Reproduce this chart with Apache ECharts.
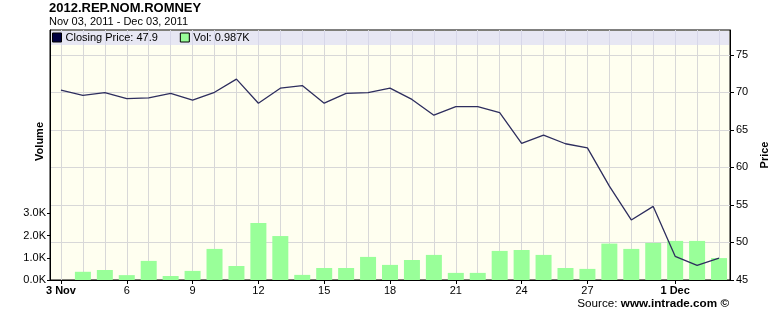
<!DOCTYPE html>
<html>
<head>
<meta charset="utf-8">
<script src="https://cdn.jsdelivr.net/npm/echarts@6/dist/echarts.min.js"></script>
<style>
html,body{margin:0;padding:0;background:#fff;}
#c{width:780px;height:311px;}
</style>
</head>
<body>
<div id="c"></div>
<script>
// ---- data ----
const days = ['3 Nov','4','5','6','7','8','9','10','11','12','13','14','15','16','17','18','19','20','21','22','23','24','25','26','27','28','29','30','1 Dec','2','3'];
const closingPrice = [70.3,69.6,69.95,69.15,69.25,69.85,68.95,70.0,71.75,68.55,70.55,70.9,68.55,69.85,69.95,70.55,69.05,66.95,68.1,68.1,67.3,63.2,64.3,63.15,62.6,57.5,53.0,54.8,48.15,46.95,47.9];
const volumeK = [0,0.37,0.45,0.22,0.86,0.18,0.41,1.40,0.63,2.57,1.98,0.23,0.54,0.54,1.04,0.68,0.90,1.13,0.32,0.32,1.31,1.35,1.13,0.54,0.50,1.64,1.40,1.67,1.76,1.76,0.987];
const labeledDays = ['3 Nov','6','9','12','15','18','21','24','27','1 Dec'];
const priceTicks = [45,50,55,60,65,70,75];
const volumeTicksK = [0,1,2,3];

const chart = echarts.init(document.getElementById('c'));
const FONT = 'Liberation Sans, Arial, sans-serif';
const lastPrice = closingPrice[closingPrice.length-1];
const lastVol = volumeK[volumeK.length-1];
const showLabel = (i, v) => labeledDays.indexOf(v) >= 0;

chart.setOption({
  animation: false,
  textStyle: {fontFamily: FONT, color: '#000'},
  title: {
    text: '2012.REP.NOM.ROMNEY',
    subtext: 'Nov 03, 2011 - Dec 03, 2011',
    left: 49, top: 2, itemGap: 1, padding: 0,
    textStyle: {fontFamily: FONT, fontSize: 13, fontWeight: 'bold', color: '#000', lineHeight: 13},
    subtextStyle: {fontFamily: FONT, fontSize: 11, color: '#000', lineHeight: 12}
  },
  legend: {
    left: 52, top: 32, padding: 0,
    itemWidth: 9, itemHeight: 9, itemGap: 22,
    selectedMode: false,
    textStyle: {fontFamily: FONT, fontSize: 11, color: '#000', padding: [0,0,0,-1]},
    data: [
      {name: 'Closing Price', icon: 'rect', itemStyle: {color: '#000040', borderColor: '#000', borderWidth: 1}},
      {name: 'Vol', icon: 'rect', itemStyle: {color: '#99FF99', borderColor: '#000', borderWidth: 1}}
    ],
    formatter: function (n) {
      return n === 'Vol' ? 'Vol: ' + lastVol.toFixed(3) + 'K' : 'Closing Price: ' + lastPrice.toFixed(1);
    }
  },
  grid: {
    left: 50, right: 50, top: 30, bottom: 31,
    show: true, backgroundColor: '#FFFFF0', borderColor: '#000', borderWidth: 1
  },
  graphic: [
    {type: 'rect', left: 51, top: 31, z: 1, silent: true,
     shape: {width: 678, height: 14}, style: {fill: 'rgba(215,215,245,0.6)'}},
    {type: 'text', left: 34, top: 122, rotation: Math.PI/2, silent: true,
     style: {text: 'Volume', font: 'bold 11px ' + FONT, fill: '#000'}},
    {type: 'text', right: 51, top: 298, silent: true,
     style: {text: '{a|Source: }{b|www.intrade.com ©}', rich: {
       a: {font: '11.7px ' + FONT, fill: '#000'},
       b: {font: 'bold 11.7px ' + FONT, fill: '#000'}
     }}}
  ],
  xAxis: {
    type: 'category', data: days, boundaryGap: true,
    axisLine: {show: true, lineStyle: {color: '#000', width: 1}},
    axisTick: {show: true, alignWithLabel: true, interval: showLabel, length: 4, lineStyle: {color: '#000'}},
    axisLabel: {
      interval: showLabel, margin: 5, fontSize: 11, fontFamily: FONT, color: '#000',
      formatter: v => (v.indexOf(' ') > 0 ? '{b|' + v + '}' : v),
      rich: {b: {fontWeight: 'bold', fontSize: 11, fontFamily: FONT}}
    },
    splitLine: {show: true, interval: 0, alignWithLabel: true, lineStyle: {color: '#D8D8D8', width: 1}}
  },
  yAxis: [
    {
      type: 'value', position: 'left', min: 0, max: 11.26, interval: 1,
      axisLine: {show: true, lineStyle: {color: '#000'}},
      axisTick: {show: true, length: 3, lineStyle: {color: '#000'},
        customValues: volumeTicksK},
      axisLabel: {margin: 4, fontSize: 11, fontFamily: FONT, color: '#000',
        customValues: volumeTicksK,
        formatter: v => v.toFixed(1) + 'K'},
      splitLine: {show: false}
    },
    {
      type: 'value', position: 'right', min: 45, max: 78.3, interval: 5,
      axisLine: {show: true, lineStyle: {color: '#000'}},
      axisTick: {show: true, length: 4, lineStyle: {color: '#000'}, customValues: priceTicks},
      axisLabel: {margin: 6, fontSize: 11, fontFamily: FONT, color: '#000', customValues: priceTicks},
      splitLine: {show: true, lineStyle: {color: '#D8D8D8', width: 1}},
      name: 'Price', nameLocation: 'middle', nameRotate: 90, nameGap: 23,
      nameTextStyle: {fontWeight: 'bold', fontSize: 11, fontFamily: FONT, color: '#000'}
    }
  ],
  series: [
    {
      name: 'Vol', type: 'bar', yAxisIndex: 0, data: volumeK, barWidth: 16,
      itemStyle: {color: '#99FF99'}, z: 2
    },
    {
      name: 'Closing Price', type: 'line', yAxisIndex: 1, data: closingPrice,
      showSymbol: false, symbol: 'none',
      lineStyle: {color: '#2E2E5E', width: 1.3}, itemStyle: {color: '#000040'}, z: 3
    }
  ]
});
</script>
</body>
</html>
